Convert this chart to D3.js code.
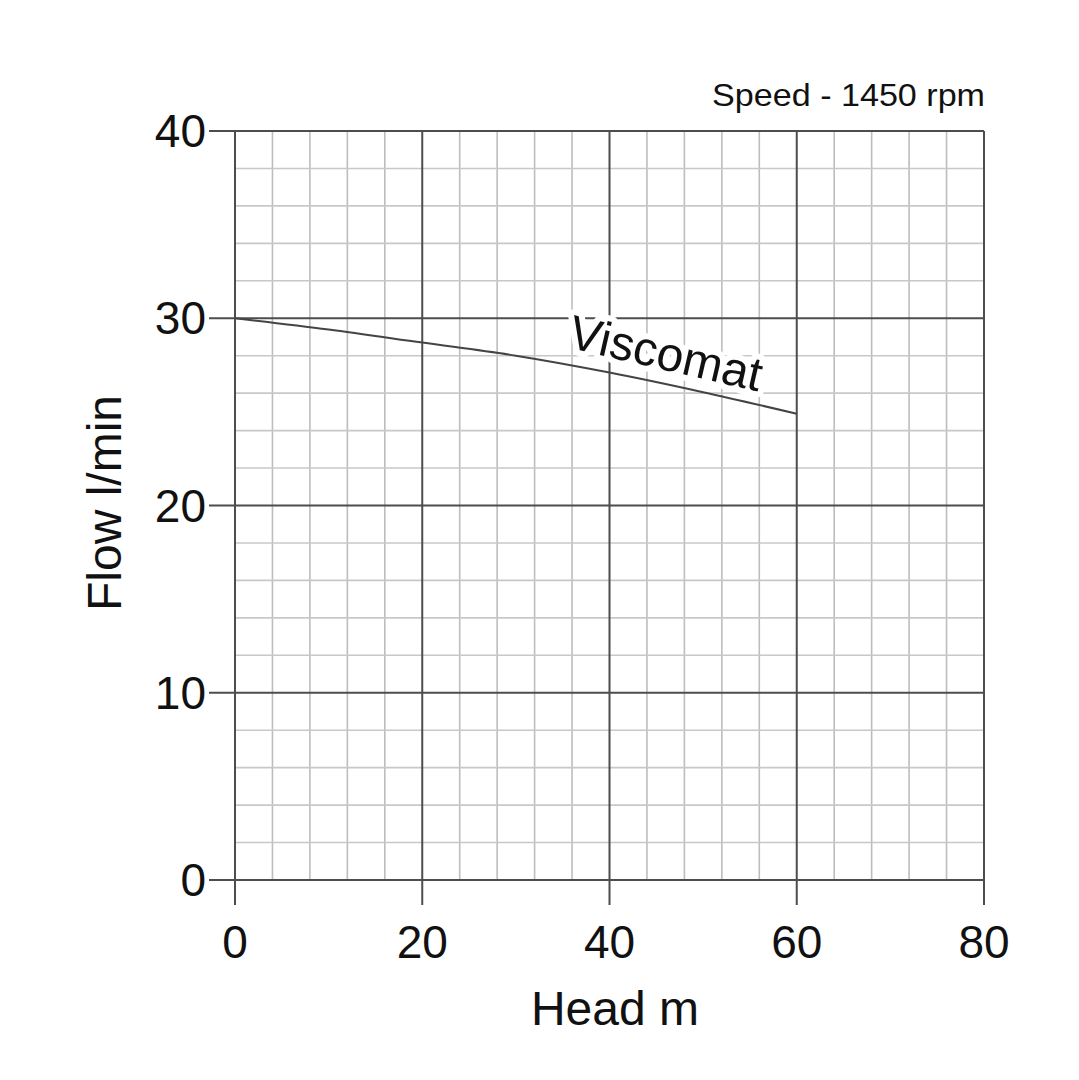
<!DOCTYPE html>
<html><head><meta charset="utf-8">
<script src="https://cdn.jsdelivr.net/npm/d3@7"></script>
<style>body{margin:0;background:#fff}svg{display:block}text{font-family:"Liberation Sans",Arial,sans-serif}</style>
</head><body>
<svg id="c" width="1079" height="1080"></svg>
<script>
const heads = [0, 10, 20, 30, 40, 50, 60];
const flows = [30, 29.4, 28.7, 28.0, 27.1, 26.05, 24.9];
const xTicks = [0, 20, 40, 60, 80];
const yTicks = [0, 10, 20, 30, 40];
const xMinor = d3.range(0, 81, 4);
const yMinor = d3.range(0, 41, 2);
const seriesName = "Viscomat";
const titleText = "Speed - 1450 rpm";

const svg = d3.select("#c");
const L = 235, R = 984, T = 131, B = 880;
const x = d3.scaleLinear().domain([0, 80]).range([L, R]);
const y = d3.scaleLinear().domain([0, 40]).range([B, T]);

const g = svg.append("g");
// minor grid
g.selectAll(".mx").data(xMinor.filter(d => d % 20)).join("line")
  .attr("x1", d => x(d)).attr("x2", d => x(d)).attr("y1", T).attr("y2", B)
  .attr("stroke", "#bdbdbd").attr("stroke-width", 1.6);
g.selectAll(".my").data(yMinor.filter(d => d % 10)).join("line")
  .attr("y1", d => y(d)).attr("y2", d => y(d)).attr("x1", L).attr("x2", R)
  .attr("stroke", "#c8c8c8").attr("stroke-width", 1.6);
// major grid with tick extensions
g.selectAll(".Mx").data(xTicks).join("line")
  .attr("x1", d => x(d)).attr("x2", d => x(d)).attr("y1", T).attr("y2", B + 25)
  .attr("stroke", "#4d4d4d").attr("stroke-width", 2);
g.selectAll(".My").data(yTicks).join("line")
  .attr("y1", d => y(d)).attr("y2", d => y(d)).attr("x1", L - 26).attr("x2", R)
  .attr("stroke", "#4d4d4d").attr("stroke-width", 2);

// curve
const line = d3.line().x((d, i) => x(heads[i])).y(d => y(d)).curve(d3.curveMonotoneX);
svg.append("path").datum(flows).attr("d", line)
  .attr("fill", "none").attr("stroke", "#444").attr("stroke-width", 2);

// series label
svg.append("text").attr("transform", `translate(${x(35.4)},${y(28.45)}) rotate(13)`)
  .attr("font-size", 48).attr("fill", "#111")
  .attr("stroke", "#fff").attr("stroke-width", 12).attr("paint-order", "stroke")
  .attr("stroke-linejoin", "round")
  .text(seriesName);

// tick labels
svg.selectAll(".xt").data(xTicks).join("text")
  .attr("x", d => x(d)).attr("y", 958).attr("text-anchor", "middle")
  .attr("font-size", 46).attr("fill", "#111").text(d => d);
svg.selectAll(".yt").data(yTicks).join("text")
  .attr("x", 206).attr("y", d => y(d) + 16).attr("text-anchor", "end")
  .attr("font-size", 46).attr("fill", "#111").text(d => d);

// axis titles
svg.append("text").attr("x", 615).attr("y", 1025).attr("text-anchor", "middle")
  .attr("font-size", 48).attr("fill", "#111").text("Head m");
svg.append("text").attr("transform", "translate(121,503) rotate(-90)").attr("text-anchor", "middle")
  .attr("font-size", 48).attr("fill", "#111").text("Flow l/min");

svg.append("text").attr("transform", "translate(985,106) scale(1.1,1)").attr("text-anchor", "end")
  .attr("font-size", 31).attr("fill", "#111").text(titleText);
</script>
</body></html>
